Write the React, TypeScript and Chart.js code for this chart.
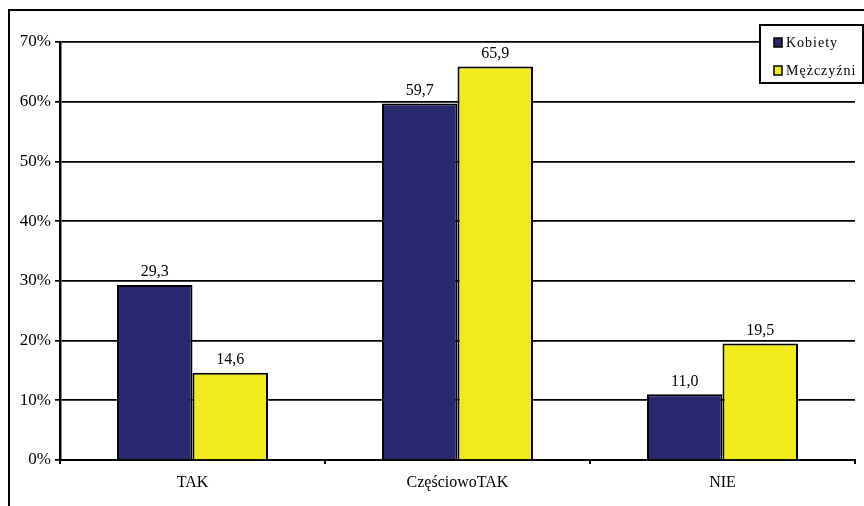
import React, { useEffect, useRef } from "react";
import { Chart, registerables } from "chart.js";

Chart.register(...registerables);

const categories = ["TAK", "CzęściowoTAK", "NIE"];
const seriesNames = ["Kobiety", "Mężczyźni"];
const kobiety = [29.3, 59.7, 11.0];
const mezczyzni = [14.6, 65.9, 19.5];
const colors = ["#29296F", "#F2EA1A"];
const yTicks = [0, 10, 20, 30, 40, 50, 60, 70];

const FONT = "'Liberation Serif', 'Times New Roman', serif";

const framePlugin = {
  id: "frame",
  beforeDraw(chart: any) {
    const ctx = chart.ctx;
    ctx.save();
    ctx.fillStyle = "#ffffff";
    ctx.fillRect(0, 0, chart.width, chart.height);
    ctx.strokeStyle = "#000";
    ctx.lineWidth = 2;
    ctx.strokeRect(9, 10, 1000, 1000);
    ctx.restore();
  },
};

const labelsPlugin = {
  id: "valueLabels",
  afterDatasetsDraw(chart: any) {
    const ctx = chart.ctx;
    ctx.save();
    ctx.font = `16px ${FONT}`;
    ctx.fillStyle = "#000";
    ctx.textAlign = "center";
    ctx.textBaseline = "bottom";
    chart.data.datasets.forEach((ds: any, i: number) => {
      const meta = chart.getDatasetMeta(i);
      meta.data.forEach((bar: any, j: number) => {
        const v = ds.data[j];
        ctx.fillText(v.toFixed(1).replace(".", ","), bar.x, bar.y - 5);
      });
    });
    ctx.restore();
  },
};

const legendPlugin = {
  id: "customLegend",
  afterDraw(chart: any) {
    const ctx = chart.ctx;
    ctx.save();
    const x = 760, y = 25, w = 103, h = 58;
    ctx.fillStyle = "#fff";
    ctx.fillRect(x, y, w, h);
    ctx.strokeStyle = "#000";
    ctx.lineWidth = 2;
    ctx.strokeRect(x, y, w, h);
    ctx.font = `14px ${FONT}`;
    ctx.textBaseline = "middle";
    ctx.textAlign = "left";
    seriesNames.forEach((name, i) => {
      const cy = 43 + i * 28;
      ctx.fillStyle = colors[i];
      ctx.fillRect(774, cy - 5, 8, 9);
      ctx.lineWidth = 1.5;
      ctx.strokeStyle = "#000";
      ctx.strokeRect(774, cy - 5, 8, 9);
      ctx.fillStyle = "#000";
      ctx.letterSpacing = "1px";
      ctx.fillText(name, 786, cy);
    });
    ctx.restore();
  },
};

export default function App() {
  const ref = useRef<HTMLCanvasElement>(null);
  useEffect(() => {
    document.body.style.margin = "0";
    const chart = new Chart(ref.current!, {
      type: "bar",
      data: {
        labels: categories,
        datasets: [
          {
            label: seriesNames[0],
            data: kobiety,
            backgroundColor: colors[0],
            borderColor: "#000",
            borderWidth: 2,
            categoryPercentage: 0.57,
            barPercentage: 1.0,
          },
          {
            label: seriesNames[1],
            data: mezczyzni,
            backgroundColor: colors[1],
            borderColor: "#000",
            borderWidth: 2,
            categoryPercentage: 0.57,
            barPercentage: 1.0,
          },
        ],
      },
      options: {
        animation: false,
        responsive: false,
        layout: { padding: { top: 42, right: 9, left: 0, bottom: 0 } },
        plugins: {
          legend: { display: false },
          tooltip: { enabled: false },
        },
        scales: {
          x: {
            afterFit: (s: any) => {
              s.height = 46;
            },
            grid: {
              display: true,
              offset: true,
              drawOnChartArea: false,
              drawTicks: true,
              tickLength: 4,
              color: "#000",
              lineWidth: 2,
            },
            border: { display: true, color: "#000", width: 2 },
            ticks: {
              color: "#000",
              font: { family: FONT, size: 16 },
              padding: 9,
            },
          },
          y: {
            min: 0,
            max: 70,
            afterFit: (s: any) => {
              s.width = 60;
            },
            afterBuildTicks: (s: any) => {
              s.ticks = yTicks.map((v) => ({ value: v }));
            },
            grid: {
              color: "#000",
              lineWidth: 1.7,
              drawTicks: true,
              tickLength: 5,
            },
            border: { display: true, color: "#000", width: 2.5 },
            ticks: {
              color: "#000",
              font: { family: FONT, size: 17 },
              padding: 4,
              callback: (v: any) => `${v}%`,
            },
          },
        },
      },
      plugins: [framePlugin, labelsPlugin, legendPlugin],
    });
    return () => chart.destroy();
  }, []);
  return (
    <div style={{ position: "absolute", left: 0, top: 0 }}>
      <canvas ref={ref} width={864} height={506} style={{ display: "block" }} />
    </div>
  );
}
